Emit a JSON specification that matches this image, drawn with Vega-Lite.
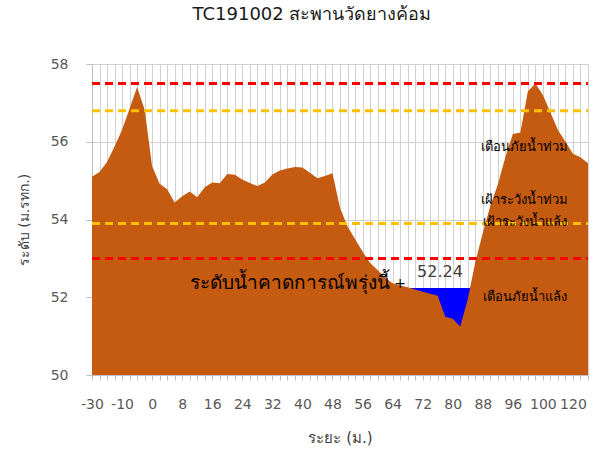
{
  "$schema": "https://vega.github.io/schema/vega-lite/v6.json",
  "width": 496,
  "height": 311,
  "autosize": "none",
  "padding": {"left": 92, "top": 64, "right": 5, "bottom": 75},
  "background": "white",
  "config": {
    "view": {"stroke": null},
    "font": "DejaVu Sans",
    "axis": {"grid": true, "gridColor": "#d0d0d0", "gridOpacity": 1, "gridWidth": 1, "tickColor": "#bfbfbf", "domainColor": "#bfbfbf", "labelColor": "#595959", "labelFontSize": 14, "titleFontSize": 14, "titleFontWeight": "normal", "titleColor": "#404040"}
  },
  "title": {"text": "TC191002 สะพานวัดยางค้อม", "fontSize": 18, "fontWeight": "normal", "color": "#1a1a1a", "anchor": "middle", "frame": "group", "dx": -28, "offset": 33},
  "datasets": {
    "terrain": [
      {"i": 0, "y": 55.10}, {"i": 1, "y": 55.22}, {"i": 2, "y": 55.48}, {"i": 3, "y": 55.88},
      {"i": 4, "y": 56.31}, {"i": 5, "y": 56.85}, {"i": 6, "y": 57.41}, {"i": 7, "y": 56.83},
      {"i": 8, "y": 55.37}, {"i": 9, "y": 54.92}, {"i": 10, "y": 54.78}, {"i": 11, "y": 54.44},
      {"i": 12, "y": 54.60}, {"i": 13, "y": 54.72}, {"i": 14, "y": 54.57}, {"i": 15, "y": 54.83},
      {"i": 16, "y": 54.95}, {"i": 17, "y": 54.93}, {"i": 18, "y": 55.17}, {"i": 19, "y": 55.15},
      {"i": 20, "y": 55.03}, {"i": 21, "y": 54.94}, {"i": 22, "y": 54.86}, {"i": 23, "y": 54.95},
      {"i": 24, "y": 55.16}, {"i": 25, "y": 55.26}, {"i": 26, "y": 55.31}, {"i": 27, "y": 55.35},
      {"i": 28, "y": 55.34}, {"i": 29, "y": 55.20}, {"i": 30, "y": 55.06}, {"i": 31, "y": 55.12},
      {"i": 32, "y": 55.19}, {"i": 33, "y": 54.30}, {"i": 34, "y": 53.82}, {"i": 35, "y": 53.50},
      {"i": 36, "y": 53.18}, {"i": 37, "y": 52.88}, {"i": 38, "y": 52.70}, {"i": 39, "y": 52.50},
      {"i": 40, "y": 52.36}, {"i": 41, "y": 52.30}, {"i": 42, "y": 52.26}, {"i": 43, "y": 52.20},
      {"i": 44, "y": 52.14}, {"i": 45, "y": 52.09}, {"i": 46, "y": 52.04}, {"i": 47, "y": 51.50},
      {"i": 48, "y": 51.45}, {"i": 49, "y": 51.25}, {"i": 50, "y": 51.95}, {"i": 51, "y": 52.90},
      {"i": 52, "y": 53.65}, {"i": 53, "y": 54.35}, {"i": 54, "y": 54.90}, {"i": 55, "y": 55.60},
      {"i": 56, "y": 56.20}, {"i": 57, "y": 56.24}, {"i": 58, "y": 57.30}, {"i": 59, "y": 57.50},
      {"i": 60, "y": 57.20}, {"i": 61, "y": 56.75}, {"i": 62, "y": 56.30}, {"i": 63, "y": 56.00},
      {"i": 64, "y": 55.69}, {"i": 65, "y": 55.60}, {"i": 66, "y": 55.45}
    ],
    "water": [{"i": 42, "y": 52.24}, {"i": 51, "y": 52.24}],
    "levels": [
      {"i": 0, "y": 57.5, "kind": "flood warning"}, {"i": 66, "y": 57.5, "kind": "flood warning"},
      {"i": 0, "y": 56.8, "kind": "flood watch"}, {"i": 66, "y": 56.8, "kind": "flood watch"},
      {"i": 0, "y": 53.9, "kind": "drought watch"}, {"i": 66, "y": 53.9, "kind": "drought watch"},
      {"i": 0, "y": 53.0, "kind": "drought warning"}, {"i": 66, "y": 53.0, "kind": "drought warning"}
    ],
    "notes": [
      {"i": 57.6, "y": 55.87, "label": "เตือนภัยน้ำท่วม"},
      {"i": 57.6, "y": 54.5, "label": "เฝ้าระวังน้ำท่วม"},
      {"i": 57.6, "y": 53.94, "label": "เฝ้าระวังน้ำแล้ง"},
      {"i": 57.6, "y": 52.01, "label": "เตือนภัยน้ำแล้ง"}
    ],
    "forecast": [{"i": 39.7, "y": 52.37, "label": "ระดับน้ำคาดการณ์พรุ่งนี้"}],
    "marker": [{"i": 41, "y": 52.35, "label": "+"}],
    "value": [{"i": 46.3, "y": 52.65, "label": "52.24"}]
  },
  "encoding": {
    "x": {"field": "i", "type": "quantitative", "scale": {"domain": [0, 66], "nice": false, "zero": false},
      "title": "ระยะ (ม.)",
      "axis": {
        "values": [0,1,2,3,4,5,6,7,8,9,10,11,12,13,14,15,16,17,18,19,20,21,22,23,24,25,26,27,28,29,30,31,32,33,34,35,36,37,38,39,40,41,42,43,44,45,46,47,48,49,50,51,52,53,54,55,56,57,58,59,60,61,62,63,64,65,66],
        "labelExpr": "datum.value % 4 == 0 ? ['-30','-10','0','8','16','24','32','40','48','56','64','72','80','88','96','100','120'][datum.value/4] : ''",
        "labelOverlap": false, "labelFlush": false, "labelBound": false, "labelPadding": 17,
        "tickSize": 5, "titlePadding": 19, "titleFontSize": 15
      }
    },
    "y": {"field": "y", "type": "quantitative", "scale": {"domain": [50, 58], "nice": false, "zero": false},
      "title": "ระดับ (ม.รทก.)",
      "axis": {"values": [50, 52, 54, 56, 58], "labelPadding": 18, "tickSize": 6, "titlePadding": 19}
    }
  },
  "layer": [
    {
      "data": {"name": "water"},
      "mark": {"type": "area", "color": "#0000FF"},
      "encoding": {"y2": {"datum": 50}}
    },
    {
      "data": {"name": "terrain"},
      "mark": {"type": "area", "color": "#C55A11"},
      "encoding": {"y2": {"datum": 50}}
    },
    {
      "data": {"name": "levels"},
      "mark": {"type": "line", "strokeWidth": 3, "strokeDash": [8, 5]},
      "encoding": {
        "color": {"field": "kind", "type": "nominal", "legend": null,
          "scale": {"domain": ["flood warning", "flood watch", "drought watch", "drought warning"], "range": ["#FF0000", "#FFC000", "#FFC000", "#FF0000"]}}
      }
    },
    {
      "data": {"name": "notes"},
      "mark": {"type": "text", "fontSize": 13, "color": "#000000", "align": "center", "baseline": "middle"},
      "encoding": {"text": {"field": "label"}}
    },
    {
      "data": {"name": "forecast"},
      "mark": {"type": "text", "fontSize": 19, "color": "#000000", "align": "right", "baseline": "middle"},
      "encoding": {"text": {"field": "label"}}
    },
    {
      "data": {"name": "marker"},
      "mark": {"type": "text", "fontSize": 14, "color": "#000000", "align": "center", "baseline": "middle"},
      "encoding": {"text": {"field": "label"}}
    },
    {
      "data": {"name": "value"},
      "mark": {"type": "text", "fontSize": 16, "color": "#404040", "align": "center", "baseline": "middle"},
      "encoding": {"text": {"field": "label"}}
    }
  ]
}
